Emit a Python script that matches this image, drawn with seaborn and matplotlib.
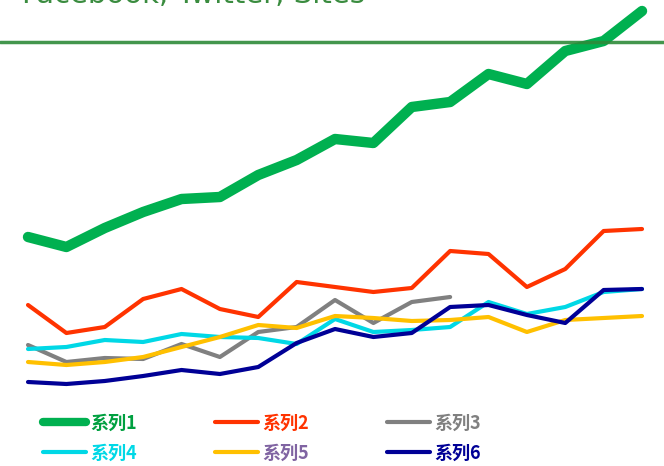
import numpy as np
import pandas as pd
import seaborn as sns
import matplotlib
matplotlib.use("Agg")
import matplotlib.pyplot as plt
from matplotlib.lines import Line2D

sns.set_style("white")
plt.rcParams['font.family'] = ['Noto Sans CJK SC', 'DejaVu Sans']

# 数据
x = list(range(17))
s1 = [163, 153, 172, 188, 201, 203, 225, 240, 261, 257, 293, 298, 326, 316, 349, 359, 389]
s2 = [95, 67, 73, 101, 111, 91, 83, 118, 113, 108, 112, 149, 146, 113, 131, 169, 171]
s3 = [55, 38, 42, 41, 56, 43, 68, 73, 100, 77, 98, 103, np.nan, np.nan, np.nan, np.nan, np.nan]
s4 = [51, 53, 60, 58, 66, 63, 62, 56, 81, 68, 70, 73, 98, 86, 93, 108, 111]
s5 = [38, 35, 38, 43, 53, 63, 75, 72, 84, 82, 79, 80, 83, 68, 80, 82, 84]
s6 = [18, 16, 19, 24, 30, 26, 33, 57, 71, 63, 67, 93, 95, 85, 77, 110, 111]

names = ["系列1", "系列2", "系列3", "系列4", "系列5", "系列6"]
series = [s1, s2, s3, s4, s5, s6]
colors = ["#00b050", "#ff3300", "#808080", "#00d8e6", "#ffc000", "#000096"]
label_colors = ["#00a040", "#ff3300", "#808080", "#00d8e6", "#8064a2", "#000096"]
widths = [7.5, 3.0, 3.0, 3.0, 3.0, 3.0]

fig = plt.figure(figsize=(6.64, 4.66), dpi=100)
ax = fig.add_axes([0, 0, 1, 1])

for name, vals, c, w in zip(names, series, colors, widths):
    df = pd.DataFrame({"x": x, "y": vals}).dropna()
    sns.lineplot(data=df, x="x", y="y", color=c, linewidth=w, ax=ax,
                 solid_capstyle="round", solid_joinstyle="round")

ax.set_xlim(-0.73, 16.573)
ax.set_ylim(-66, 400)
ax.axis("off")

# 标题（上方被裁切）和绿色横线
fig.text(0.033, 1 - 3 / 466, "Facebook, Twitter, Sites", color="#3a8c3f",
         fontsize=21, va="baseline", ha="left", family=["DejaVu Sans"])
fig.add_artist(Line2D([0, 1], [1 - 42 / 466, 1 - 42 / 466], transform=fig.transFigure,
                      color="#2e8b3a", linewidth=2.5, alpha=0.9, zorder=5))

# 图例按行排列：matplotlib 按列填充，所以重新排序
order = [0, 3, 1, 4, 2, 5]
handles = [Line2D([], [], color=colors[i], linewidth=(6 if i == 0 else 3),
                  solid_capstyle="round") for i in order]
leg = fig.legend(handles, [names[i] for i in order], ncol=3, loc="center",
                 bbox_to_anchor=(262 / 664, 1 - 438 / 466),
                 frameon=False, handlelength=2.4, handletextpad=0.25,
                 columnspacing=4.3, labelspacing=0.6,
                 prop={"weight": "bold", "size": 13})
for t, i in zip(leg.get_texts(), order):
    t.set_color(label_colors[i])

fig.savefig("out.png", dpi=100)
